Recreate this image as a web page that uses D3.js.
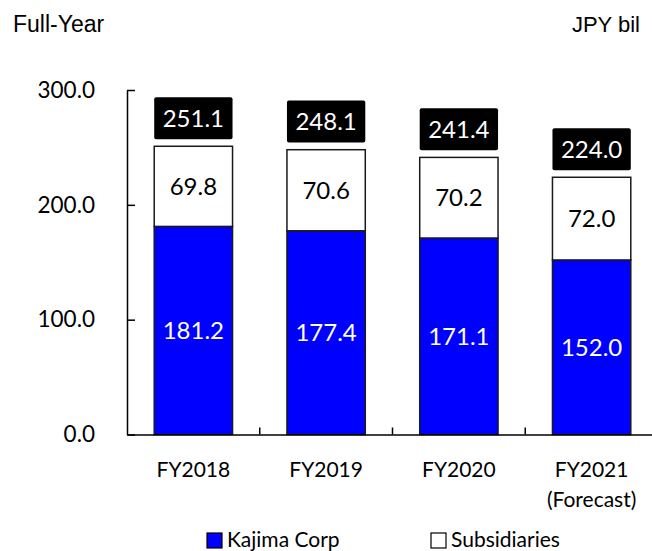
<!DOCTYPE html>
<html>
<head>
<meta charset="utf-8">
<script src="https://cdn.jsdelivr.net/npm/d3@7"></script>
<style>
  body { margin: 0; background: #fff; }
</style>
</head>
<body>
<div id="chart"></div>
<script>
// Chart data
const years = ["FY2018", "FY2019", "FY2020", "FY2021"];
const yearNotes = ["", "", "", "(Forecast)"];
const kajima = [181.2, 177.4, 171.1, 152.0];
const subsidiaries = [69.8, 70.6, 70.2, 72.0];
const totals = [251.1, 248.1, 241.4, 224.0];
const yTicks = [0, 100, 200, 300];
const seriesNames = ["Kajima Corp", "Subsidiaries"];

const width = 652,
    height = 551;

const numFont = "Lato, 'Open Sans', sans-serif";

const svg = d3.select("#chart")
    .append("svg")
    .attr("width", width)
    .attr("height", height);

// Scales
const xScale = d3.scaleBand()
    .domain(years)
    .range([127, 658])
    .paddingInner(0.41)
    .paddingOuter(0.205);

const yScale = d3.scaleLinear()
    .domain([0, 300])
    .range([434.5, 90]);

// Top captions
svg.append("text")
    .attr("x", 13)
    .attr("y", 32)
    .style("font-family", "'Liberation Sans', Arial, sans-serif")
    .style("font-size", "23px")
    .text("Full-Year");

svg.append("text")
    .attr("x", 640)
    .attr("y", 32)
    .style("font-family", "'Liberation Sans', Arial, sans-serif")
    .style("font-size", "22px")
    .style("text-anchor", "end")
    .text("JPY bil");

// Bars: Kajima Corp (bottom)
svg.selectAll(".bar-k")
    .data(years)
    .enter()
    .append("rect")
    .attr("class", "bar-k")
    .attr("x", d => xScale(d))
    .attr("y", (d, i) => yScale(kajima[i]))
    .attr("width", xScale.bandwidth())
    .attr("height", (d, i) => yScale(0) - yScale(kajima[i]))
    .attr("fill", "#0000ff")
    .attr("stroke", "#1a1a1a")
    .attr("stroke-width", 1.5);

// Bars: Subsidiaries (stacked)
svg.selectAll(".bar-s")
    .data(years)
    .enter()
    .append("rect")
    .attr("class", "bar-s")
    .attr("x", d => xScale(d))
    .attr("y", (d, i) => yScale(kajima[i] + subsidiaries[i]))
    .attr("width", xScale.bandwidth())
    .attr("height", (d, i) => yScale(kajima[i]) - yScale(kajima[i] + subsidiaries[i]))
    .attr("fill", "#ffffff")
    .attr("stroke", "#1a1a1a")
    .attr("stroke-width", 1.5);

// Value labels inside bars
svg.selectAll(".lbl-k")
    .data(years)
    .enter()
    .append("text")
    .attr("x", d => xScale(d) + xScale.bandwidth() / 2)
    .attr("y", (d, i) => (yScale(0) + yScale(kajima[i])) / 2)
    .attr("dy", "0.36em")
    .style("text-anchor", "middle")
    .style("font-family", numFont)
    .style("font-size", "24px")
    .attr("fill", "#fff")
    .text((d, i) => kajima[i].toFixed(1));

svg.selectAll(".lbl-s")
    .data(years)
    .enter()
    .append("text")
    .attr("x", d => xScale(d) + xScale.bandwidth() / 2)
    .attr("y", (d, i) => (yScale(kajima[i]) + yScale(kajima[i] + subsidiaries[i])) / 2)
    .attr("dy", "0.36em")
    .style("text-anchor", "middle")
    .style("font-family", numFont)
    .style("font-size", "24px")
    .attr("fill", "#000")
    .text((d, i) => subsidiaries[i].toFixed(1));

// Total labels in black boxes
const boxH = 42,
    boxGap = 7;

svg.selectAll(".box-t")
    .data(years)
    .enter()
    .append("rect")
    .attr("x", d => xScale(d))
    .attr("y", (d, i) => yScale(totals[i]) - boxGap - boxH)
    .attr("width", xScale.bandwidth())
    .attr("height", boxH)
    .attr("rx", 2)
    .attr("fill", "#000");

svg.selectAll(".lbl-t")
    .data(years)
    .enter()
    .append("text")
    .attr("x", d => xScale(d) + xScale.bandwidth() / 2)
    .attr("y", (d, i) => yScale(totals[i]) - boxGap - boxH / 2)
    .attr("dy", "0.36em")
    .style("text-anchor", "middle")
    .style("font-family", numFont)
    .style("font-size", "24px")
    .attr("fill", "#fff")
    .text((d, i) => totals[i].toFixed(1));

// Y axis
const yAxis = svg.append("g")
    .attr("transform", "translate(127, 0)")
    .call(d3.axisLeft(yScale)
        .tickValues(yTicks)
        .tickFormat(d3.format(".1f"))
        .tickSizeInner(-8)
        .tickSizeOuter(0)
        .tickPadding(32));

yAxis.selectAll("path, line")
    .attr("stroke", "#000")
    .attr("stroke-width", 1.5);
yAxis.selectAll("text")
    .style("font-family", numFont)
    .style("font-size", "22.5px")
    .attr("fill", "#000");

// X axis
const xAxis = svg.append("g")
    .attr("transform", `translate(0, ${yScale(0)})`)
    .call(d3.axisBottom(xScale).tickSize(0).tickFormat(""));

xAxis.select("path")
    .attr("stroke", "#000")
    .attr("stroke-width", 1.5);

// Category separator ticks
xAxis.selectAll(".sep")
    .data(years.slice(0, -1))
    .enter()
    .append("line")
    .attr("x1", d => xScale(d) + xScale.bandwidth() + (xScale.step() - xScale.bandwidth()) / 2)
    .attr("x2", d => xScale(d) + xScale.bandwidth() + (xScale.step() - xScale.bandwidth()) / 2)
    .attr("y1", 0)
    .attr("y2", -7)
    .attr("stroke", "#000")
    .attr("stroke-width", 1.5);

// Category labels
const catLabels = svg.selectAll(".cat")
    .data(years)
    .enter()
    .append("text")
    .attr("x", d => xScale(d) + xScale.bandwidth() / 2)
    .attr("y", 477)
    .style("text-anchor", "middle")
    .style("font-family", numFont)
    .style("font-size", "21px")
    .attr("fill", "#000");

catLabels.append("tspan")
    .attr("x", d => xScale(d) + xScale.bandwidth() / 2)
    .text(d => d);

catLabels.append("tspan")
    .attr("x", d => xScale(d) + xScale.bandwidth() / 2)
    .attr("dy", 30)
    .text((d, i) => yearNotes[i]);

// Legend
const legendX = [207, 431];
const legendFill = ["#0000ff", "#ffffff"];

const legend = svg.selectAll(".legend")
    .data(seriesNames)
    .enter().append("g")
    .attr("class", "legend")
    .attr("transform", (d, i) => `translate(${legendX[i]}, 533)`);

legend.append("rect")
    .attr("width", 15)
    .attr("height", 15)
    .attr("fill", (d, i) => legendFill[i])
    .attr("stroke", "#000")
    .attr("stroke-width", 1.2);

legend.append("text")
    .attr("x", 20)
    .attr("y", 14)
    .style("font-family", numFont)
    .style("font-size", "21px")
    .attr("fill", "#000")
    .text(d => d);
</script>
</body>
</html>
